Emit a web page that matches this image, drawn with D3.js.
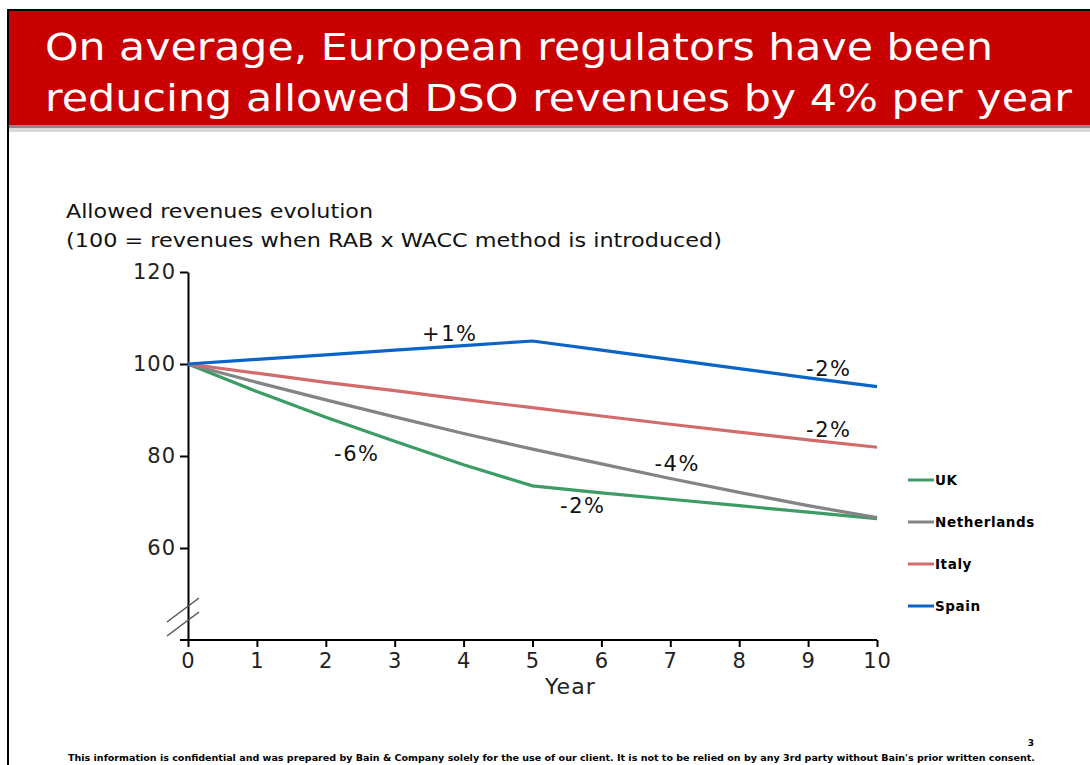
<!DOCTYPE html>
<html>
<head>
<meta charset="utf-8">
<script src="https://cdn.jsdelivr.net/npm/d3@7"></script>
<style>
  body { margin: 0; background: #fff; }
  svg { display: block; font-family: "DejaVu Sans", Verdana, sans-serif; }
</style>
</head>
<body>
<svg id="chart" width="1090" height="765"></svg>
<script>
// data
const years = [0, 1, 2, 3, 4, 5, 6, 7, 8, 9, 10]
const uk = [100, 94, 88.4, 83.2, 78.1, 73.5, 72, 70.6, 69.2, 67.8, 66.4]
const netherlands = [100, 96, 92.2, 88.5, 84.9, 81.5, 78.3, 75.1, 72.1, 69.2, 66.6]
const italy = [100, 98, 96, 94.2, 92.3, 90.5, 88.7, 86.9, 85.2, 83.5, 81.9]
const spain = [100, 101, 102, 103, 104, 105, 103, 101, 99, 97, 95.1]
const yTicks = [60, 80, 100, 120]
const seriesNames = ['UK', 'Netherlands', 'Italy', 'Spain']
const labels = [
  {text: '+1%', year: 3.8, value: 105},
  {text: '-2%', year: 9.3, value: 97.5},
  {text: '-2%', year: 9.3, value: 84.1},
  {text: '-4%', year: 7.1, value: 76.7},
  {text: '-6%', year: 2.45, value: 78.9},
  {text: '-2%', year: 5.73, value: 67.6}
]

const colors = ['#3c9c64', '#848484', '#d26b6b', '#0a64c8']
const series = seriesNames.map((name, i) => ({
  name: name,
  values: [uk, netherlands, italy, spain][i],
  color: colors[i]
}))

const svg = d3.select('#chart')

// slide frame and title band
svg.append('rect').attr('x', 8).attr('y', 10).attr('width', 1090).attr('height', 770)
  .attr('fill', '#fff').attr('stroke', '#000').attr('stroke-width', 2)
svg.append('rect').attr('x', 9).attr('y', 125).attr('width', 1081).attr('height', 7).attr('fill', '#8a8a8a')
svg.append('rect').attr('x', 9).attr('y', 128).attr('width', 1081).attr('height', 4).attr('fill', '#d8d8d8')
svg.append('rect').attr('x', 9).attr('y', 11).attr('width', 1081).attr('height', 114).attr('fill', '#c80000')

const title = ['On average, European regulators have been', 'reducing allowed DSO revenues by 4% per year']
svg.selectAll('.title').data(title).enter().append('text')
  .attr('x', 45).attr('y', (d, i) => 60 + i * 51)
  .attr('fill', '#fff').attr('font-size', 38)
  .attr('textLength', (d, i) => i === 0 ? 948 : 1027)
  .attr('lengthAdjust', 'spacingAndGlyphs')
  .text(d => d)

// chart area
const x = d3.scaleLinear().domain([0, 10]).range([188, 877])
const y = d3.scaleLinear().domain([40, 120]).range([640, 272])

svg.append('text').attr('x', 66).attr('y', 218).attr('font-size', 19).attr('fill', '#111')
  .attr('textLength', 307).attr('lengthAdjust', 'spacingAndGlyphs')
  .text('Allowed revenues evolution')
svg.append('text').attr('x', 66).attr('y', 247).attr('font-size', 19).attr('fill', '#111')
  .attr('textLength', 656).attr('lengthAdjust', 'spacingAndGlyphs')
  .text('(100 = revenues when RAB x WACC method is introduced)')

// y axis
const yAxis = svg.append('g').attr('transform', 'translate(' + x(0) + ',0)')
  .call(d3.axisLeft(y).tickValues(yTicks).tickSize(8).tickSizeOuter(0))
yAxis.select('.domain').attr('stroke', '#000').attr('stroke-width', 2)
yAxis.selectAll('.tick line').attr('stroke-width', 2)
yAxis.selectAll('text').attr('font-size', 21).attr('font-family', '"DejaVu Sans", sans-serif')
  .attr('fill', '#222').attr('x', -12).attr('letter-spacing', 1)

// x axis
const xAxis = svg.append('g').attr('transform', 'translate(0,' + y(40) + ')')
  .call(d3.axisBottom(x).tickValues(years).tickSize(7).tickSizeOuter(0))
xAxis.select('.domain').attr('stroke', '#000').attr('stroke-width', 2).attr('d', 'M180,0H' + x(10))
xAxis.selectAll('.tick line').attr('stroke-width', 2)
xAxis.selectAll('text').attr('font-size', 21).attr('font-family', '"DejaVu Sans", sans-serif')
  .attr('fill', '#222').attr('y', 13).attr('letter-spacing', 1)
svg.append('text').attr('x', x(5.55)).attr('y', 694).attr('text-anchor', 'middle')
  .attr('font-size', 22).attr('fill', '#222').attr('letter-spacing', 1).text('Year')

// axis break marks
svg.append('line').attr('x1', 167).attr('y1', 622).attr('x2', 199).attr('y2', 598)
  .attr('stroke', '#555').attr('stroke-width', 1.5)
svg.append('line').attr('x1', 167).attr('y1', 636).attr('x2', 199).attr('y2', 612)
  .attr('stroke', '#555').attr('stroke-width', 1.5)

// lines
const line = d3.line()
  .x((d, i) => x(years[i]))
  .y(d => y(d))

svg.selectAll('.series').data(series).enter().append('path')
  .attr('fill', 'none')
  .attr('stroke', d => d.color)
  .attr('stroke-width', 3.2)
  .attr('d', d => line(d.values))

// growth labels
svg.selectAll('.lbl').data(labels).enter().append('text')
  .attr('x', d => x(d.year)).attr('y', d => y(d.value))
  .attr('text-anchor', 'middle').attr('font-size', 21).attr('letter-spacing', 1.5).attr('fill', '#111')
  .text(d => d.text)

// legend
const legend = svg.selectAll('.legend').data(series).enter().append('g')
  .attr('transform', (d, i) => 'translate(908,' + (480 + i * 42) + ')')
legend.append('line').attr('x1', 0).attr('x2', 26).attr('stroke', d => d.color).attr('stroke-width', 3)
legend.append('text').attr('x', 27).attr('y', 5).attr('font-size', 13.5).attr('font-weight', 'bold')
  .attr('letter-spacing', 0.6)
  .attr('fill', '#000').text(d => d.name)

// footer
svg.append('text').attr('x', 1034).attr('y', 746).attr('text-anchor', 'end')
  .attr('font-size', 9).attr('font-weight', 'bold').text('3')
svg.append('text').attr('x', 68).attr('y', 761).attr('font-size', 8).attr('font-weight', 'bold')
  .attr('textLength', 967).attr('lengthAdjust', 'spacingAndGlyphs')
  .text('This information is confidential and was prepared by Bain & Company solely for the use of our client. It is not to be relied on by any 3rd party without Bain\'s prior written consent.')
</script>
</body>
</html>
